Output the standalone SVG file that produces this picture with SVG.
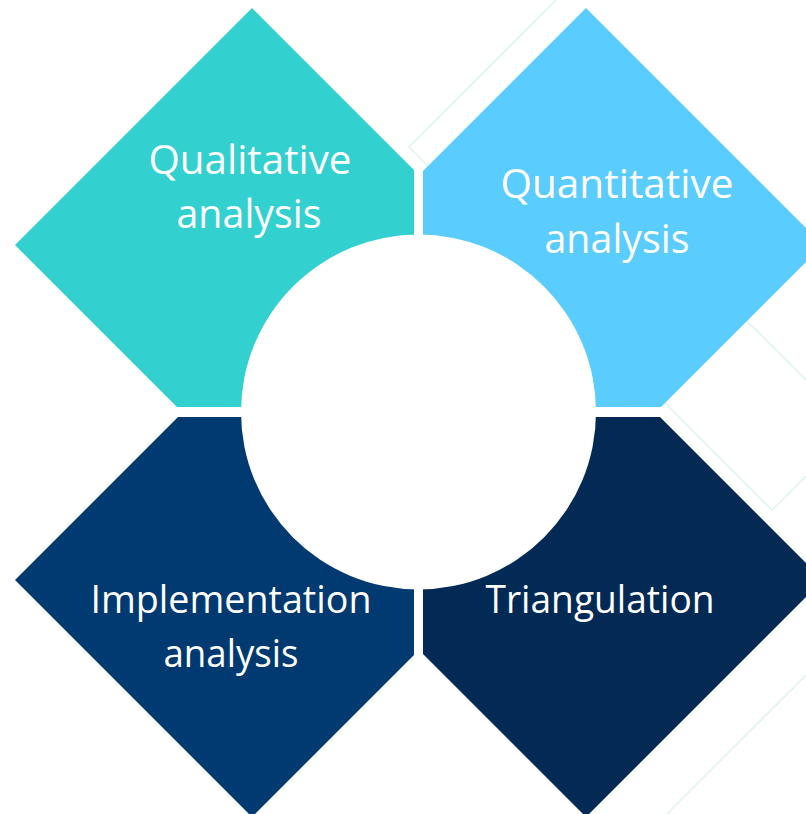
<svg xmlns="http://www.w3.org/2000/svg" width="806" height="814" viewBox="0 0 806 814">
  <style>
    .bg { fill: none; stroke: #dff4f3; stroke-width: 1.6; }
    .lbl { fill: #ffffff; font-family: "Open Sans", "Noto Sans", "Liberation Sans", sans-serif; text-anchor: middle; }
    .top { font-size: 41px; }
    .bot { font-size: 38px; }
  </style>
  <rect x="0" y="0" width="806" height="814" fill="#ffffff"/>
  <g id="background-lines">
    <polyline class="bg" points="556,0 409,147 772,510 806,476"/>
    <line class="bg" x1="700" y1="274" x2="806" y2="380"/>
    <line class="bg" x1="660" y1="821" x2="806" y2="675"/>
  </g>
  <g id="connectors"/>
  <g id="node-qualitative">
    <polygon fill="#33d0d0" points="252,8 414,170 414,407 177,407 15,245"/>
    <text class="lbl top" x="250" y="174" textLength="203" lengthAdjust="spacingAndGlyphs">Qualitative</text>
    <text class="lbl top" x="249" y="228" textLength="145" lengthAdjust="spacingAndGlyphs">analysis</text>
  </g>
  <g id="node-quantitative">
    <polygon fill="#5bccfe" points="423,171 586,8 823,245 661,407 423,407"/>
    <text class="lbl top" x="617" y="198" textLength="233" lengthAdjust="spacingAndGlyphs">Quantitative</text>
    <text class="lbl top" x="617" y="253" textLength="145" lengthAdjust="spacingAndGlyphs">analysis</text>
  </g>
  <g id="node-implementation">
    <polygon fill="#003a70" points="178,417 414,417 414,655 252,817 15,580"/>
    <text class="lbl bot" x="231" y="613" textLength="281" lengthAdjust="spacingAndGlyphs">Implementation</text>
    <text class="lbl bot" x="231" y="667" textLength="135" lengthAdjust="spacingAndGlyphs">analysis</text>
  </g>
  <g id="node-triangulation">
    <polygon fill="#022a55" points="423,417 660,417 823,580 586,817 423,654"/>
    <text class="lbl bot" x="600" y="613" textLength="229" lengthAdjust="spacingAndGlyphs">Triangulation</text>
  </g>
  <g id="center-circle">
    <circle cx="418.5" cy="412" r="177.5" fill="#ffffff"/>
  </g>
</svg>
